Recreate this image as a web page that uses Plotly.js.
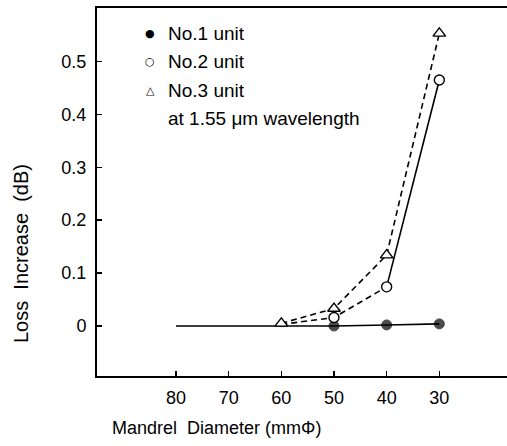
<!DOCTYPE html>
<html>
<head>
<meta charset="utf-8">
<script src="https://cdn.plot.ly/plotly-3.0.1.min.js"></script>
<style>html,body{margin:0;padding:0;background:#fff;}#chart{width:507px;height:446px;}</style>
</head>
<body>
<div id="chart"></div>
<script>
// Data
var unit1X = [80, 70, 60, 50, 40, 30];
var unit1Y = [0, 0, 0, 0, 0.002, 0.004];
var unit1MarkerShown = [false, false, false, true, true, true];

var unit2X = [60, 50, 40, 30];
var unit2Y = [0.003, 0.016, 0.074, 0.465];

var unit3X = [60, 50, 40, 30];
var unit3Y = [0.005, 0.033, 0.134, 0.553];

var xTicks = [80, 70, 60, 50, 40, 30];
var yTicks = [0, 0.1, 0.2, 0.3, 0.4, 0.5];
var yTickText = ['0', '0.1', '0.2', '0.3', '0.4', '0.5'];

var legendSymbols = ['\u25CF', '\u25CB', '\u25B3'];
var legendLabels = ['No.1 unit', 'No.2 unit', 'No.3 unit', 'at 1.55\u00A0\u03BCm\u00A0wavelength'];

var FONT = 'Liberation Sans, Arial, sans-serif';
var black = '#000';

// Plot area geometry (pixels)
var W = 507, H = 446, L = 97, T = 8, B = 70, R = 0;
var plotH = H - T - B, plotW = W - L - R;
function px2py(py) { return (H - B - py) / plotH; }
function px2px(px) { return (px - L) / plotW; }

var traces = [];
// No.1: solid line, filled circles
traces.push({
  x: unit1X, y: unit1Y, mode: 'lines+markers', type: 'scatter',
  line: {color: black, width: 1.6},
  marker: {symbol: 'circle', color: black,
           size: unit1MarkerShown.map(function (s) { return s ? 10 : 0; }),
           line: {color: black, width: unit1MarkerShown.map(function (s) { return s ? 1 : 0; })}},
  showlegend: false, cliponaxis: false
});
// No.2: dashed from 60 to 40, solid from 40 to 30
traces.push({
  x: unit2X.slice(0, 3), y: unit2Y.slice(0, 3), mode: 'lines', type: 'scatter',
  line: {color: black, width: 1.6, dash: '6px,4px'}, showlegend: false
});
traces.push({
  x: unit2X.slice(2), y: unit2Y.slice(2), mode: 'lines', type: 'scatter',
  line: {color: black, width: 1.6}, showlegend: false
});
traces.push({
  x: unit2X.slice(1), y: unit2Y.slice(1), mode: 'markers', type: 'scatter',
  marker: {symbol: 'circle', color: '#fff', size: 10, line: {color: black, width: 1.4}},
  showlegend: false
});
// No.3: dashed line, open triangles
traces.push({
  x: unit3X, y: unit3Y, mode: 'lines+markers', type: 'scatter',
  line: {color: black, width: 1.6, dash: '6px,4px'},
  marker: {symbol: 'triangle-up', color: '#fff', size: 11, line: {color: black, width: 1.4}},
  showlegend: false
});

var annotations = [];
var rowPy = [33.5, 62, 90.5, 118.5];
for (var i = 0; i < legendLabels.length; i++) {
  if (i < legendSymbols.length) {
    annotations.push({
      xref: 'paper', yref: 'paper', x: px2px(150), y: px2py(rowPy[i]),
      xanchor: 'center', yanchor: 'middle', showarrow: false,
      text: legendSymbols[i], font: {family: 'DejaVu Sans', size: 11, color: black}
    });
  }
  annotations.push({
    xref: 'paper', yref: 'paper', x: px2px(166), y: px2py(rowPy[i]),
    xanchor: 'left', yanchor: 'middle', showarrow: false,
    text: legendLabels[i], font: {family: FONT, size: 19, color: black}
  });
}
// axis titles placed as in the reference
annotations.push({
  xref: 'paper', yref: 'paper', x: px2px(216), y: px2py(428),
  xanchor: 'center', yanchor: 'middle', showarrow: false,
  text: 'Mandrel\u00A0 Diameter (mm\u03A6)', font: {family: FONT, size: 18, color: black}
});
annotations.push({
  xref: 'paper', yref: 'paper', x: px2px(21), y: px2py(254),
  xanchor: 'center', yanchor: 'middle', showarrow: false, textangle: -90,
  text: 'Loss\u00A0\u00A0Increase\u00A0\u00A0(dB)', font: {family: FONT, size: 20, color: black}
});

var layout = {
  width: W, height: H,
  margin: {l: L, r: R, t: T, b: B, pad: 0},
  paper_bgcolor: '#fff', plot_bgcolor: '#fff',
  showlegend: false,
  font: {family: FONT, size: 18, color: black},
  xaxis: {
    range: [95, 17.15], tickvals: xTicks, ticktext: xTicks.map(String),
    ticks: 'inside', ticklen: 5, tickwidth: 1.4, tickcolor: black,
    showline: true, linecolor: black, linewidth: 2, mirror: true,
    showgrid: false, zeroline: false, ticklabelstandoff: 4,
    tickfont: {family: FONT, size: 18, color: black}
  },
  yaxis: {
    range: [-0.0945, 0.601], tickvals: yTicks, ticktext: yTickText,
    ticks: 'inside', ticklen: 5, tickwidth: 1.4, tickcolor: black,
    showline: true, linecolor: black, linewidth: 2, mirror: false,
    showgrid: false, zeroline: false, ticklabelstandoff: 5,
    tickfont: {family: FONT, size: 18, color: black}
  },
  annotations: annotations
};

Plotly.newPlot('chart', traces, layout, {staticPlot: true, displayModeBar: false});
</script>
</body>
</html>
